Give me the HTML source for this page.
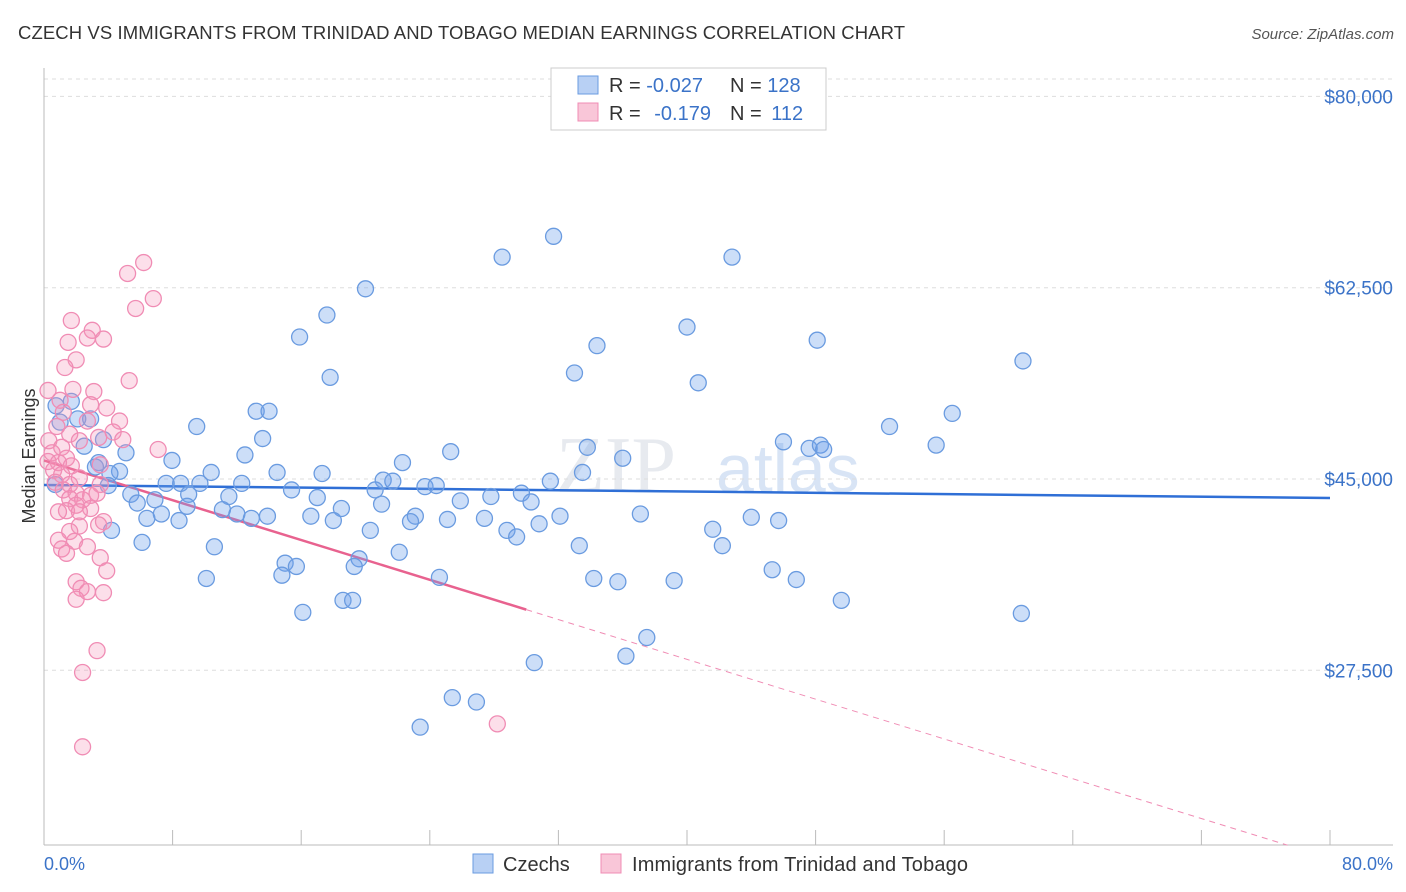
<!DOCTYPE html>
<html><head><meta charset="utf-8"><style>
body{margin:0;background:#fff;font-family:"Liberation Sans",sans-serif;}
svg{display:block}
</style></head><body>
<svg id="chart" width="1406" height="892">
<text x="18" y="39" font-size="18.5" fill="#333" textLength="887">CZECH VS IMMIGRANTS FROM TRINIDAD AND TOBAGO MEDIAN EARNINGS CORRELATION CHART</text>
<text x="1394" y="39" font-size="15" fill="#555" font-style="italic" text-anchor="end">Source: ZipAtlas.com</text>
<g><text x="556" y="492" font-size="80" fill="#d8dde6" font-family="Liberation Serif,serif" opacity="0.6">ZIP</text><text x="716" y="492" font-size="68" fill="#a9c5ea" opacity="0.45">atlas</text></g>
<g id="grid"></g>
<g id="axes"></g>
<g id="trends"></g>
<g id="points"></g>
<text x="35" y="456" font-size="18" fill="#333" text-anchor="middle" transform="rotate(-90 35 456)">Median Earnings</text>
<text x="44" y="870" font-size="18" fill="#3b73c8">0.0%</text>
<text x="1393" y="870" font-size="18" fill="#3b73c8" text-anchor="end">80.0%</text>
<g>
<rect x="551" y="68" width="275" height="62" fill="#fff" stroke="#ccc"/>
<rect x="578" y="76" width="20" height="18" fill="#b8d0f4" stroke="#6a9be0"/>
<rect x="578" y="103" width="20" height="18" fill="#f9c6d8" stroke="#f08cb4"/>
<text x="609" y="92" font-size="20" fill="#333">R = <tspan fill="#3b73c8">-0.027</tspan><tspan x="730">N = </tspan><tspan fill="#3b73c8">128</tspan></text>
<text x="609" y="120" font-size="20" fill="#333">R = <tspan fill="#3b73c8" dx="8">-0.179</tspan><tspan x="730">N = </tspan><tspan fill="#3b73c8" dx="4">112</tspan></text>
</g>
<g>
<rect x="473" y="854" width="20" height="19" fill="#b8d0f4" stroke="#6a9be0"/>
<text x="503" y="871" font-size="20" fill="#333">Czechs</text>
<rect x="601" y="854" width="20" height="19" fill="#f9c6d8" stroke="#f08cb4"/>
<text x="632" y="871" font-size="20" fill="#333" textLength="336">Immigrants from Trinidad and Tobago</text>
</g>
</svg>
<script>
const yTicks=[27500,45000,62500,80000];
const yTickLabels=["$27,500","$45,000","$62,500","$80,000"];
const xTicks=[0,8,16,24,32,40,48,56,64,72,80];
const blueX=[31.7,28.5,42.8,20.0,17.6,40.0,15.9,48.1,34.4,60.9,33.0,17.8,40.7,13.2,14.0,56.5,9.5,52.6,13.6,55.5,46.0,47.6,48.3,48.5,33.8,25.3,12.5,36.0,7.96,22.3,10.4,14.5,17.3,33.5,31.5,21.1,21.7,9.7,8.5,12.3,7.6,23.7,24.4,15.4,20.6,29.7,27.8,5.4,9.0,11.5,17.0,25.9,30.3,6.9,5.8,8.9,18.5,21.0,11.1,12.0,13.9,16.6,6.4,7.3,8.4,12.9,23.1,25.1,27.4,32.1,22.8,30.8,37.1,44.0,45.7,18.0,20.3,28.8,29.4,41.6,6.1,10.6,22.1,33.3,42.2,19.6,19.3,15.0,15.7,14.8,10.1,24.6,34.2,35.7,39.2,45.3,46.8,18.6,19.2,16.1,49.6,60.8,37.5,36.2,30.5,25.4,26.9,23.4,0.75,1.7,2.9,2.1,1.0,3.7,2.5,3.4,3.2,5.1,4.7,4.1,0.7,4.0,4.2];
const blueY=[67.2,65.3,65.3,62.4,60.0,58.9,57.99,57.7,57.2,55.8,54.7,54.3,53.8,51.2,51.2,51.0,49.8,49.8,48.7,48.1,48.4,47.8,48.1,47.7,47.9,47.5,47.2,46.9,46.7,46.5,45.6,45.6,45.5,45.6,44.8,44.9,44.8,44.6,44.6,44.6,44.6,44.3,44.4,44.0,44.0,43.7,43.4,43.6,43.6,43.4,43.3,43.0,42.9,43.1,42.8,42.5,42.3,42.7,42.2,41.8,41.6,41.6,41.4,41.8,41.2,41.4,41.6,41.3,41.4,41.6,41.1,40.9,41.8,41.5,41.2,41.2,40.3,40.3,39.7,40.4,39.2,38.8,38.3,38.9,38.9,37.7,37.0,37.3,37.0,36.2,35.9,36.0,35.9,35.6,35.7,36.7,35.8,33.9,33.9,32.8,33.9,32.7,30.5,28.8,28.2,25.0,24.6,22.3,51.7,52.1,50.5,50.5,50.2,48.6,48.0,46.5,46.1,47.4,45.7,45.5,44.5,44.4,40.3];
const pinkX=[6.2,5.2,6.8,5.7,1.7,3.0,1.5,3.7,2.7,2.0,1.3,5.3,1.8,0.25,3.1,1.0,2.9,3.9,1.2,4.7,2.7,0.8,1.6,4.3,3.4,2.2,0.3,4.9,1.1,7.1,0.5,1.4,0.25,0.9,1.7,3.5,0.6,1.1,2.2,0.7,1.6,3.5,1.2,2.0,2.9,3.3,1.6,2.4,2.9,2.0,1.4,0.9,2.2,3.7,2.2,3.4,1.6,0.9,1.9,2.7,1.1,1.4,3.5,3.9,2.0,2.3,2.7,2.0,3.7,3.3,2.4,2.4,28.2];
const pinkY=[64.8,63.8,61.5,60.6,59.5,58.6,57.5,57.8,57.9,55.9,55.2,54.0,53.2,53.1,53.0,52.2,51.8,51.5,51.1,50.3,50.3,49.8,49.1,49.3,48.8,48.5,48.5,48.6,47.9,47.7,47.4,46.9,46.6,46.5,46.2,46.3,45.8,45.4,45.1,44.7,44.5,44.5,44.0,43.7,43.5,43.7,43.2,43.1,42.3,42.6,42.1,42.0,42.0,41.1,40.7,40.8,40.2,39.4,39.3,38.8,38.6,38.2,37.8,36.6,35.6,35.0,34.7,34.0,34.6,29.3,27.3,20.5,22.6];
const blueTrend=[44.45,43.26]; // value at 0% and 80% ($k)
const pinkTrend=[46.7,-0.455]; // intercept ($k), slope per %
const pinkSolidEnd=30;
const NS="http://www.w3.org/2000/svg";
const xs=p=>44+p*16.075;
const ys=v=>479-(v-45000)*191.3/17500;
function mk(tag,attrs,parent){const e=document.createElementNS(NS,tag);for(const k in attrs)e.setAttribute(k,attrs[k]);parent.appendChild(e);return e;}
const grid=document.getElementById('grid'),axes=document.getElementById('axes'),tr=document.getElementById('trends'),pts=document.getElementById('points');
let g=mk('line',{x1:44,x2:1393,y1:79,y2:79,stroke:'#ddd','stroke-dasharray':'4,4'},grid);


yTicks.forEach((v,i)=>{
 const l=mk('line',{x1:44,x2:1393,y1:ys(v),y2:ys(v),stroke:'#ddd','stroke-dasharray':'4,4'},grid);
 
 
 const t=mk('text',{x:1393,y:ys(v)+7,'font-size':19,fill:'#3b73c8','text-anchor':'end'},axes);
 t.textContent=yTickLabels[i];
 
 
});
let a=mk('line',{x1:44,x2:44,y1:68,y2:845,stroke:'#bbb'},axes);


a=mk('line',{x1:44,x2:1393,y1:845,y2:845,stroke:'#bbb'},axes);


xTicks.forEach(p=>{const t=mk('line',{x1:xs(p),x2:xs(p),y1:830,y2:845,stroke:'#bbb'},axes);
 
 });
function dot(x,y,fill,stroke,name){const c=mk('circle',{cx:xs(x),cy:ys(y*1000),r:8,fill:fill,stroke:stroke,'stroke-width':1.3},pts);
 
 }
blueX.forEach((x,i)=>dot(x,blueY[i],'rgba(110,160,235,0.35)','#6a9be0','czech-point'));
pinkX.forEach((x,i)=>dot(x,pinkY[i],'rgba(245,150,185,0.3)','#f08cb4','trinidad-point'));
let L=mk('line',{x1:xs(0),y1:ys(blueTrend[0]*1000),x2:xs(80),y2:ys(blueTrend[1]*1000),stroke:'#2f6fd6','stroke-width':2.5},tr);


const pv=p=>(pinkTrend[0]+pinkTrend[1]*p)*1000;
L=mk('line',{x1:xs(0),y1:ys(pv(0)),x2:xs(pinkSolidEnd),y2:ys(pv(pinkSolidEnd)),stroke:'#e8628f','stroke-width':2.5},tr);


const pEnd=(11500/1000-pinkTrend[0])/pinkTrend[1];
L=mk('line',{x1:xs(pinkSolidEnd),y1:ys(pv(pinkSolidEnd)),x2:xs(pEnd),y2:ys(pv(pEnd)),stroke:'#f08cb4','stroke-width':1,'stroke-dasharray':'6,5'},tr);


</script>
</body></html>
